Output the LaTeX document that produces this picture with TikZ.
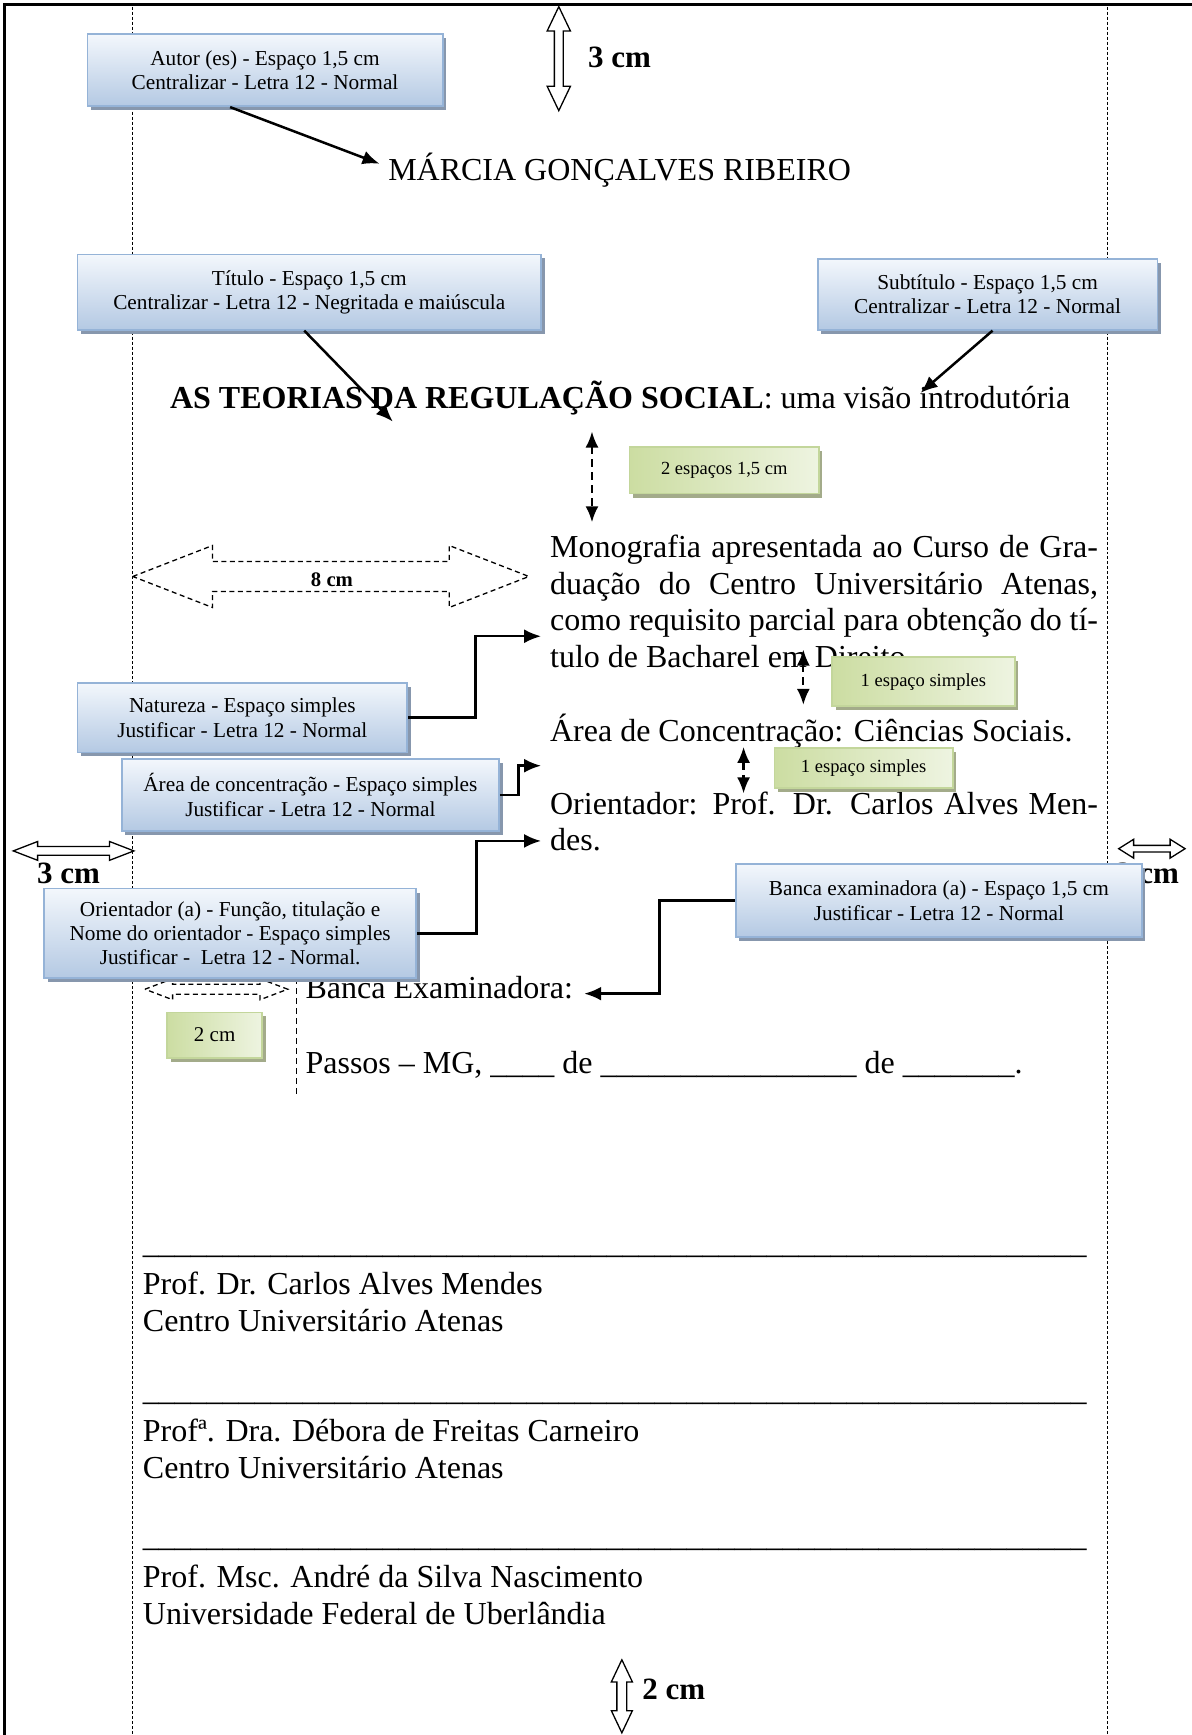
\documentclass[tikz,border=0pt]{standalone}
\usepackage{fontspec}
\setmainfont{Liberation Serif}
\usetikzlibrary{arrows.meta,shadows}

\definecolor{boxedge}{HTML}{95B3D7}
\definecolor{boxtop}{HTML}{F3F7FC}
\definecolor{boxbot}{HTML}{B4C9E3}
\definecolor{boxshadow}{HTML}{8797AD}
\definecolor{gedge}{HTML}{C3D69B}
\definecolor{gleft}{HTML}{CCDDA2}
\definecolor{gright}{HTML}{EEF4E1}
\definecolor{gshadow}{HTML}{A3AB8A}

% hollow double arrows: style, start, end, axis position, shaft half width, head half width, head length
\newcommand\hdouble[7]{%
  \path[#1] (#2,#4) -- ({#2+#7},{#4-#6}) -- ({#2+#7},{#4-#5}) -- ({#3-#7},{#4-#5})
    -- ({#3-#7},{#4-#6}) -- (#3,#4) -- ({#3-#7},{#4+#6}) -- ({#3-#7},{#4+#5})
    -- ({#2+#7},{#4+#5}) -- ({#2+#7},{#4+#6}) -- cycle;}
\newcommand\vdouble[7]{%
  \path[#1] (#4,#2) -- ({#4+#6},{#2+#7}) -- ({#4+#5},{#2+#7}) -- ({#4+#5},{#3-#7})
    -- ({#4+#6},{#3-#7}) -- (#4,#3) -- ({#4-#6},{#3-#7}) -- ({#4-#5},{#3-#7})
    -- ({#4-#5},{#2+#7}) -- ({#4-#6},{#2+#7}) -- cycle;}

\begin{document}
\begin{tikzpicture}[x=1.1068pt,y=-1.1068pt,
  bodytext/.style={inner sep=0pt, font=\fontsize{32}{36.5}\selectfont},
  notebox/.style={draw=boxedge, line width=1.8pt, top color=boxtop, bottom color=boxbot,
    align=center, inner sep=0pt, font=\fontsize{21.3}{24.3}\selectfont,
    drop shadow={shadow xshift=3.5pt, shadow yshift=-4pt, fill=boxshadow, opacity=1}},
  spacebox/.style={draw=gedge, line width=1.8pt, left color=gleft, right color=gright,
    inner sep=0pt, font=\fontsize{18.5}{22}\selectfont,
    drop shadow={shadow xshift=3.5pt, shadow yshift=-4pt, fill=gshadow, opacity=1}},
  link/.style={line width=2.5pt, -{Latex[length=17pt,width=14pt]}},
  gap/.style={line width=2.2pt, dash pattern=on 8pt off 5pt,
    {Latex[length=16pt,width=13pt]}-{Latex[length=16pt,width=13pt]}},
  margin/.style={line width=0.9pt, dash pattern=on 3pt off 2pt},
  hollow/.style={draw, fill=white, line width=1.3pt},
  dashedhollow/.style={hollow, dash pattern=on 5pt off 3.5pt},
  dimlabel/.style={inner sep=0pt, font=\fontsize{31}{31}\selectfont\bfseries},
]
\useasboundingbox (0,0) rectangle (1077,1568);

% page edge and margin guides
\draw[line width=2.8pt] (4,1568) -- (4,4) -- (1077,4);
\draw[margin] (120,6) -- (120,1568);
\draw[margin] (1001,6) -- (1001,1568);

% margin dimensions
\vdouble{hollow}{6}{100}{505}{4}{10.5}{22}
\node[dimlabel] (topgap) at (560,52) {3 cm};
\hdouble{hollow}{12}{121}{769}{4}{8.5}{22}
\node[dimlabel] (leftgap) at (62,789) {3 cm};
\hdouble{hollow}{1011}{1071}{767}{3}{8.5}{13.5}
\node[dimlabel] (rightgap) at (1037,789) {3 cm};
\vdouble{hollow}{1500}{1566}{562}{4.5}{9.5}{20}
\node[dimlabel] (bottomgap) at (609,1527) {2 cm};

% indent of the nature paragraph
\hdouble{dashedhollow}{120}{478}{521}{13.5}{28}{72}
\node[inner sep=0pt, font=\fontsize{20.7}{20.7}\selectfont\bfseries] (indent) at (300,524) {8 cm};

% page text
\node[bodytext, anchor=base] (author) at (560,163) {MÁRCIA GONÇALVES RIBEIRO};
\node[bodytext, anchor=base] (title) at (560.5,369.5)
  {\textbf{AS TEORIAS DA REGULAÇÃO SOCIAL}: uma visão introdutória};
\node[bodytext, anchor=base west] (nature) at (497,504) {\vtop{%
  \hbox to 548pt{Monografia apresentada ao Curso de Gra-}
  \hbox to 548pt{duação do Centro Universitário Atenas,}
  \hbox to 548pt{como requisito parcial para obtenção do tí-}
  \hbox{tulo de Bacharel em Direito.}}};
\node[bodytext, anchor=base west] (area) at (497,670) {Área de Concentração: Ciências Sociais.};
\node[bodytext, anchor=base west] (advisor) at (497,736) {\vtop{%
  \hbox to 548pt{Orientador: Prof. Dr. Carlos Alves Men-}
  \hbox{des.}}};
\node[bodytext, anchor=base west] (board) at (276,902) {Banca Examinadora:};
\node[bodytext, anchor=base west] (place) at (276,970)
  {Passos – MG, \_\_\_\_ de \_\_\_\_\_\_\_\_\_\_\_\_\_\_\_\_ de \_\_\_\_\_\_\_.};

\node[bodytext, anchor=base west] (sign1) at (129,1133) {\hbox to 944pt{\xleaders\hbox{\_}\hfill}};
\node[bodytext, anchor=base west] (member1) at (129,1170) {\vtop{%
  \hbox{Prof. Dr. Carlos Alves Mendes}
  \hbox{Centro Universitário Atenas}}};
\node[bodytext, anchor=base west] (sign2) at (129,1266) {\hbox to 944pt{\xleaders\hbox{\_}\hfill}};
\node[bodytext, anchor=base west] (member2) at (129,1303) {\vtop{%
  \hbox{Profª. Dra. Débora de Freitas Carneiro}
  \hbox{Centro Universitário Atenas}}};
\node[bodytext, anchor=base west] (sign3) at (129,1398) {\hbox to 944pt{\xleaders\hbox{\_}\hfill}};
\node[bodytext, anchor=base west] (member3) at (129,1435) {\vtop{%
  \hbox{Prof. Msc. André da Silva Nascimento}
  \hbox{Universidade Federal de Uberlândia}}};

% indent of the examining board
\hdouble{dashedhollow}{131}{260}{894}{4.5}{9.5}{25}
\draw[line width=1.3pt, dash pattern=on 6pt off 4pt] (268,884) -- (268,990);

% explanatory notes
\node[notebox, minimum width=355.3pt, minimum height=71.9pt] (autorbox) at (239.5,63.5)
  {Autor (es) - Espaço 1,5 cm\\Centralizar - Letra 12 - Normal};
\node[notebox, minimum width=463.7pt, minimum height=75.3pt] (titlebox) at (279.5,264)
  {Título - Espaço 1,5 cm\\Centralizar - Letra 12 - Negritada e maiúscula};
\node[notebox, minimum width=339.8pt, minimum height=70.8pt] (subbox) at (892.5,266)
  {Subtítulo - Espaço 1,5 cm\\Centralizar - Letra 12 - Normal};
\node[notebox, minimum width=329.8pt, minimum height=69.7pt] (natbox) at (219,648.5)
  {Natureza - Espaço simples\\Justificar - Letra 12 - Normal};
\node[notebox, minimum width=377.4pt, minimum height=71.9pt] (areabox) at (280.5,718.5)
  {Área de concentração - Espaço simples\\Justificar - Letra 12 - Normal};
\node[notebox, minimum width=371.9pt, minimum height=89.7pt] (advbox) at (208,843.5)
  {Orientador (a) - Função, titulação e\\Nome do orientador - Espaço simples\\Justificar - \ Letra 12 - Normal.};
\node[notebox, minimum width=406.2pt, minimum height=73pt] (boardbox) at (848.5,814)
  {Banca examinadora (a) - Espaço 1,5 cm\\Justificar - Letra 12 - Normal};

\node[spacebox, minimum width=189.3pt, minimum height=46.5pt] (gapbox1) at (654.5,425) {2 espaços 1,5 cm};
\node[spacebox, minimum width=182.6pt, minimum height=48.7pt] (gapbox2) at (834.5,616) {1 espaço simples};
\node[spacebox, minimum width=178.2pt, minimum height=39.8pt] (gapbox3) at (780.5,694) {1 espaço simples};
\node[spacebox, minimum width=95.2pt, minimum height=45.4pt, font=\fontsize{21}{24}\selectfont] (gapbox4) at (194,935.5) {2 cm};

% connector ends
\coordinate (authortip) at (343,148);
\coordinate (titletip) at (355,381);
\coordinate (subtip) at (832,355);
\coordinate (naturetip) at (489,575);
\coordinate (areatip) at (489,692);
\coordinate (advisortip) at (489,760);
\coordinate (boardtip) at (528,898);
\coordinate (gap1a) at (535,390);
\coordinate (gap1b) at (535,472);
\coordinate (gap2a) at (726,587);
\coordinate (gap2b) at (726,637);
\coordinate (gap3a) at (672,675);
\coordinate (gap3b) at (672,717);

% connectors
\draw[link] ([xshift=-34.9pt]autorbox.south) -- (authortip);
\draw[link] ([xshift=-5pt]titlebox.south) -- (titletip);
\draw[link] ([xshift=5pt]subbox.south) -- (subtip);
\draw[link] (natbox.east) -- ++(61,0) |- (naturetip);
\draw[link] (areabox.east) -- ++(17,0) |- (areatip);
\draw[link] (advbox.east) -- ++(54,0) |- (advisortip);
\draw[link] (boardbox.west) -- ++(-68,0) |- (boardtip);

\draw[gap] (gap1a) -- (gap1b);
\draw[gap] (gap2a) -- (gap2b);
\draw[gap] (gap3a) -- (gap3b);
\end{tikzpicture}
\end{document}
